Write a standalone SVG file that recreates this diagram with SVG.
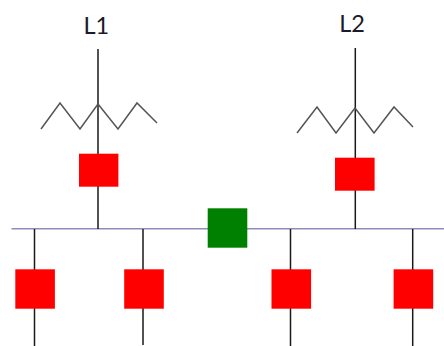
<svg xmlns="http://www.w3.org/2000/svg" width="444" height="346" viewBox="0 0 444 346">
<style>
.wire{stroke:#1a1a1a;stroke-width:1.5;fill:none}
.bus{stroke:#8f8bbb;stroke-width:1.6;fill:none}
.zig{stroke:#555;stroke-width:1.5;fill:none}
.brk{fill:#f00}
.tie{fill:#008000}
text{font-family:"Lato","Liberation Sans",sans-serif;font-size:23.5px;fill:#1a1a2a;text-anchor:middle}
</style>
<rect width="444" height="346" fill="#fff"/>
<g id="connectors">
<path class="bus" d="M11.5 228.7H444"/>
<path class="wire" d="M98 49V229M355.3 48V229M34.5 229V346M143 229V345M290.5 229V346M412.7 229V346"/>
<path class="zig" d="M41 129L60 103L80 129L98 104L118 129L137 103L157 123"/>
<path class="zig" d="M297 133L317 107L336 133L355 108L374 133L394 107L413 127"/>
</g>
<g id="L1"><text x="96.3" y="33.5">L1</text></g>
<g id="L2"><text x="352" y="31.5">L2</text></g>
<g id="breaker-L1"><rect class="brk" x="79" y="153.7" width="39.4" height="33"/></g>
<g id="breaker-L2"><rect class="brk" x="335" y="157.7" width="39.6" height="33"/></g>
<g id="bus-tie"><rect class="tie" x="207.7" y="208.3" width="39.6" height="39.4"/></g>
<g id="breaker-1"><rect class="brk" x="15.3" y="269.3" width="39.6" height="39.4"/></g>
<g id="breaker-2"><rect class="brk" x="124.2" y="269.3" width="39.6" height="39.4"/></g>
<g id="breaker-3"><rect class="brk" x="271.5" y="269.3" width="39.6" height="39.4"/></g>
<g id="breaker-4"><rect class="brk" x="393.6" y="269.3" width="39.6" height="39.4"/></g>
</svg>
